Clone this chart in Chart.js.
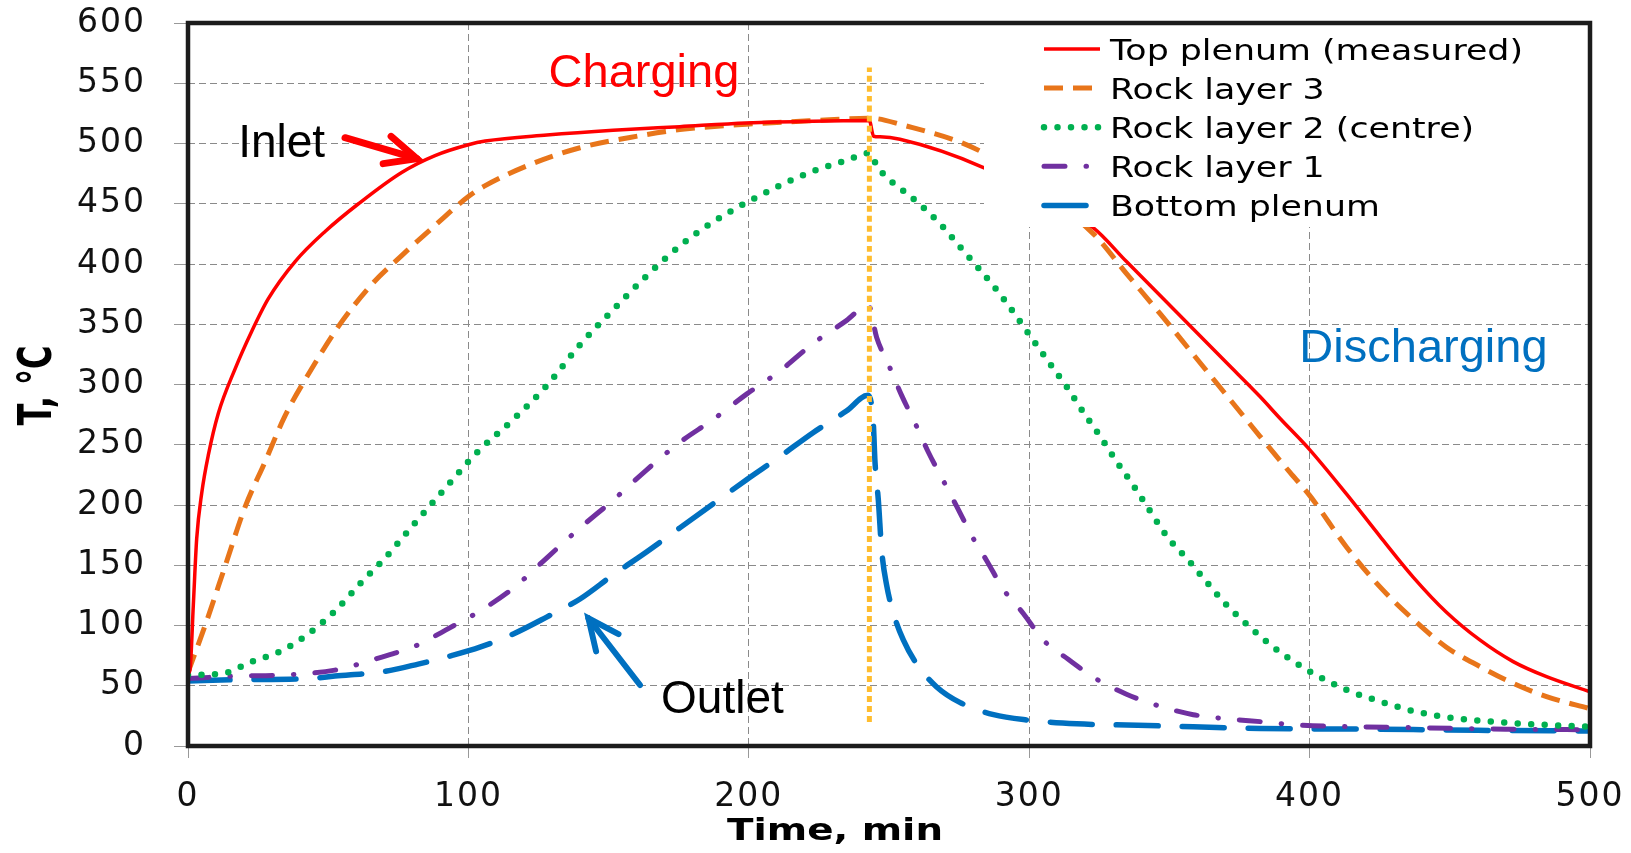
<!DOCTYPE html>
<html>
<head>
<meta charset="utf-8">
<script src="https://cdn.jsdelivr.net/npm/chart.js@4.4.1/dist/chart.umd.min.js"></script>
<style>
  html, body { margin: 0; padding: 0; background: #fff; }
  #wrap { width: 1631px; height: 853px; }
</style>
</head>
<body>
<div id="wrap"><canvas id="tempChart"></canvas></div>
<script>
// series: [time (min), temperature (°C)]
const seriesNames = [
  "Top plenum (measured)",
  "Rock layer 3",
  "Rock layer 2 (centre)",
  "Rock layer 1",
  "Bottom plenum",
];

const topPlenum = [
  [0, 60], [0.7, 63], [1.9, 117], [3.1, 172], [4.9, 210], [7.3, 242], [10.8, 276],
  [16.8, 313], [22.7, 344], [28.6, 371], [38.2, 402], [48.9, 427], [60.8, 450],
  [76.2, 476], [88.1, 490], [100, 499], [106, 502], [128, 507], [151.6, 511],
  [175.4, 514], [199.2, 517], [223, 518.5], [243, 519], [244.5, 506], [246.8, 505.5],
  [253.9, 503.5], [283.7, 480], [322.9, 430], [334.7, 402], [346.6, 374], [358.5, 346],
  [370.4, 318], [382.3, 290], [389.4, 272], [400, 246], [413.2, 209], [425.1, 174],
  [437, 140], [448.8, 111], [460.7, 88], [472.6, 70], [484.5, 57.5], [500, 45],
];

const rockLayer3 = [
  [0, 61], [6.1, 100], [13.2, 149], [20.3, 198], [27.5, 236], [34.6, 274], [44.1, 313],
  [53.6, 348], [65.5, 383], [76.2, 407], [88.1, 432], [100, 456], [106, 465],
  [122, 482.5], [139.8, 496.5], [157.6, 505], [175.4, 511.5], [199.2, 516], [223, 519],
  [243.3, 521], [253.9, 516], [283.5, 492.5], [322.9, 425], [334.7, 392], [346.6, 359],
  [358.5, 325], [370.4, 291], [382.3, 257], [393, 227], [400, 208], [413.2, 165],
  [425.1, 132], [437, 105], [448.8, 82], [460.7, 66], [472.6, 52], [484.5, 41], [500, 31],
];

const rockLayer2 = [
  [0, 59], [12, 60], [22.7, 70], [33.4, 79], [42.9, 93], [52.4, 112], [61.9, 136],
  [70.3, 156], [79.8, 182], [86.9, 201], [94, 220], [100, 236], [104.1, 246],
  [116, 271], [127.9, 299], [139.8, 333], [151.6, 362], [163.5, 390], [175.4, 415],
  [187.3, 435], [199.2, 451], [211, 465], [222.9, 477], [234.8, 486], [243, 492],
  [245.6, 482], [248.6, 473], [252.8, 465], [261, 449.5], [268.8, 432], [275.4, 414],
  [282.5, 395], [289.6, 375], [295.6, 356], [301.5, 336.5], [307.5, 317], [313.4, 298],
  [319.3, 277], [325.3, 257], [331.2, 236], [337.2, 216], [343.1, 195], [349.1, 174],
  [356.8, 154], [363.3, 136], [370.4, 117], [377.6, 101], [386.5, 83], [391.2, 75],
  [400, 62], [413.2, 46.5], [425.1, 37], [437, 29], [448.8, 24], [460.7, 21],
  [472.6, 19], [484.5, 17.5], [500, 16],
];

const rockLayer1 = [
  [0, 56], [16.8, 58], [34.6, 59], [52.4, 63], [67.9, 73], [82.1, 84], [91.7, 96],
  [104.1, 112], [116, 131], [127.9, 156], [139.8, 181], [151.6, 204], [163.5, 229],
  [175.4, 252], [187.3, 271], [199.2, 292], [211, 311], [222.9, 334], [234.8, 353],
  [242.6, 366], [245.6, 339], [250.3, 314], [254.5, 291], [259.9, 265], [264, 244],
  [269.4, 220], [274.1, 199], [280.1, 172], [284.8, 154], [290.8, 130], [297.9, 110],
  [305, 88], [313.9, 72], [324, 55.5], [334.7, 43], [346.6, 33], [358.5, 26],
  [370.4, 22.6], [383.5, 20], [395, 17.5], [430, 15.5], [470, 14], [500, 13.5],
];

const bottomPlenum = [
  [0, 54], [16.8, 55], [42.9, 56], [52.4, 58], [70.3, 62], [82.1, 68], [94, 75],
  [104.1, 82], [116, 93], [127.9, 107], [139.8, 122], [151.6, 142], [163.5, 161],
  [175.4, 181], [187.3, 201], [199.2, 221], [211, 240], [222.9, 260], [234.8, 278],
  [242.5, 291], [244.4, 268], [245, 236], [246.2, 204], [247.4, 162], [249.2, 133],
  [251.6, 110], [255.1, 88], [259.9, 68], [267, 49], [275.4, 36], [287.3, 26],
  [299.2, 21.6], [317, 18.4], [334.7, 17.4], [358.5, 16], [382.3, 14.5], [420, 14],
  [460, 13], [500, 12.5],
];

// charge -> discharge switch marker
const switchLine = [[243, 20], [243, 563]];

const xTicks = [0, 100, 200, 300, 400, 500];
const yTicks = [0, 50, 100, 150, 200, 250, 300, 350, 400, 450, 500, 550, 600];

const notes = [
  { text: "Charging", t: 162.6, T: 547, color: "#FF0000", size: 47 },
  { text: "Inlet", t: 33.4, T: 489, color: "#000000", size: 46 },
  { text: "Outlet", t: 190.6, T: 27, color: "#000000", size: 46 },
  { text: "Discharging", t: 440.6, T: 319, color: "#0070C0", size: 47 },
];
const arrows = [
  { from: [56, 504.8], to: [81.6, 487.4], color: "#FF0000", width: 7 },
  { from: [161.2, 50.6], to: [142.8, 106], color: "#0070C0", width: 6 },
];

const toPoints = (arr) => arr.map(([x, y]) => ({ x, y }));

const datasets = [
  { label: seriesNames[0], data: toPoints(topPlenum), borderColor: "#FF0000",
    borderWidth: 3.5, borderDash: [], borderCapStyle: "butt" },
  { label: seriesNames[1], data: toPoints(rockLayer3), borderColor: "#E8751A",
    borderWidth: 5, borderDash: [19, 10], borderCapStyle: "butt" },
  { label: seriesNames[2], data: toPoints(rockLayer2), borderColor: "#00B050",
    borderWidth: 6.5, borderDash: [0, 13.5], borderCapStyle: "round" },
  { label: seriesNames[3], data: toPoints(rockLayer1), borderColor: "#7030A0",
    borderWidth: 5, borderDash: [21, 21, 0.5, 21], borderCapStyle: "round" },
  { label: seriesNames[4], data: toPoints(bottomPlenum), borderColor: "#0070C0",
    borderWidth: 5.5, borderDash: [42, 24], borderCapStyle: "round" },
  { label: "", data: toPoints(switchLine), borderColor: "#FFBD2E",
    borderWidth: 5, borderDash: [6, 4], borderCapStyle: "butt", order: -1 },
].map((d) => ({
  ...d,
  fill: false,
  pointRadius: 0,
  cubicInterpolationMode: "monotone",
}));

// horizontally stretched text, like the original picture
function stretchText(ctx, text, x, y, width) {
  const sx = width / ctx.measureText(text).width;
  ctx.save();
  ctx.translate(x, y);
  ctx.scale(sx, 1);
  ctx.fillText(text, 0, 0);
  ctx.restore();
}

function drawArrow(ctx, x0, y0, x1, y1, color, width) {
  const a = Math.atan2(y1 - y0, x1 - x0);
  const head = 34;
  ctx.strokeStyle = color;
  ctx.lineWidth = width;
  ctx.lineCap = "round";
  ctx.lineJoin = "miter";
  ctx.setLineDash([]);
  ctx.beginPath();
  ctx.moveTo(x0, y0);
  ctx.lineTo(x1, y1);
  ctx.stroke();
  ctx.beginPath();
  ctx.moveTo(x1 - head * Math.cos(a - 0.43), y1 - head * Math.sin(a - 0.43));
  ctx.lineTo(x1, y1);
  ctx.lineTo(x1 - head * Math.cos(a + 0.43), y1 - head * Math.sin(a + 0.43));
  ctx.stroke();
}

const decorations = {
  id: "decorations",
  beforeDraw(chart) {
    // slightly wider tick labels
    chart.ctx.letterSpacing = "2px";
  },
  afterDatasetsDraw(chart) {
    const { ctx, chartArea, scales } = chart;
    const x = scales.x, y = scales.y;
    ctx.save();
    ctx.letterSpacing = "0px";

    // legend over the plot, top right
    const boxLeft = chartArea.right - 606;
    ctx.fillStyle = "#fff";
    ctx.fillRect(boxLeft, chartArea.top, chartArea.right - boxLeft, 227 - chartArea.top);
    ctx.font = '29px "DejaVu Sans"';
    const legendW = 413;
    const sx = legendW / ctx.measureText(seriesNames[0]).width;
    ctx.textBaseline = "alphabetic";
    ctx.textAlign = "left";
    datasets.filter((d) => d.label).forEach((d, i) => {
      const cy = 49 + i * 39.1;
      ctx.strokeStyle = d.borderColor;
      ctx.lineWidth = d.borderWidth;
      ctx.lineCap = d.borderCapStyle;
      ctx.setLineDash(d.borderDash);
      ctx.beginPath();
      ctx.moveTo(1044, cy);
      ctx.lineTo(1100, cy);
      ctx.stroke();
      ctx.fillStyle = "#000";
      ctx.save();
      ctx.translate(1110, cy + 10.6);
      ctx.scale(sx, 1);
      ctx.fillText(d.label, 0, 0);
      ctx.restore();
    });

    // text notes and arrows
    ctx.textAlign = "center";
    notes.forEach((n) => {
      ctx.font = n.size + 'px "Liberation Sans"';
      ctx.fillStyle = n.color;
      ctx.fillText(n.text, x.getPixelForValue(n.t), y.getPixelForValue(n.T));
    });
    arrows.forEach((a) => {
      drawArrow(ctx,
        x.getPixelForValue(a.from[0]), y.getPixelForValue(a.from[1]),
        x.getPixelForValue(a.to[0]), y.getPixelForValue(a.to[1]),
        a.color, a.width);
    });
    ctx.restore();
  },
  afterDraw(chart) {
    const { ctx, chartArea } = chart;
    ctx.save();
    ctx.letterSpacing = "0px";
    ctx.setLineDash([]);
    ctx.strokeStyle = "#1c1c1c";
    ctx.lineWidth = 4.5;
    ctx.strokeRect(chartArea.left, chartArea.top,
      chartArea.right - chartArea.left, chartArea.bottom - chartArea.top);

    // axis titles
    ctx.fillStyle = "#000";
    ctx.textBaseline = "alphabetic";
    ctx.textAlign = "left";
    ctx.font = 'bold 31px "DejaVu Sans"';
    const tw = 216;
    stretchText(ctx, "Time, min", 835 - tw / 2, 840, tw);

    ctx.translate(51, 385.5);
    ctx.rotate(-Math.PI / 2);
    ctx.font = 'bold 46px "DejaVu Sans"';
    stretchText(ctx, "T, °C", -80 / 2, 0, 80);
    ctx.restore();
  },
};

const ctx = document.getElementById("tempChart").getContext("2d");

const config = {
  type: "line",
  data: { datasets: datasets },
  options: {
    responsive: true,
    maintainAspectRatio: false,
    animation: false,
    layout: { padding: { top: 23, right: 41, bottom: 0, left: 0 } },
    plugins: {
      legend: { display: false },
      tooltip: { enabled: false },
    },
    scales: {
      x: {
        type: "linear",
        min: 0,
        max: 500,
        afterBuildTicks: (axis) => { axis.ticks = xTicks.map((v) => ({ value: v })); },
        afterFit: (axis) => {
          axis.height = 107;
          axis.paddingLeft = 0;
          axis.paddingRight = 0;
        },
        ticks: {
          font: { family: "DejaVu Sans", size: 33 },
          color: "#111",
          padding: 20,
          maxRotation: 0,
          autoSkip: false,
        },
        grid: { color: "#8a8a8a", lineWidth: 1, tickLength: 12, tickColor: "#999" },
        border: { display: false, dash: [7, 4] },
      },
      y: {
        min: 0,
        max: 600,
        afterBuildTicks: (axis) => { axis.ticks = yTicks.map((v) => ({ value: v })); },
        afterFit: (axis) => {
          axis.width = 188;
          axis.paddingTop = 0;
          axis.paddingBottom = 0;
        },
        ticks: {
          font: { family: "DejaVu Sans", size: 33 },
          color: "#111",
          padding: 28,
          autoSkip: false,
        },
        grid: { color: "#8a8a8a", lineWidth: 1, tickLength: 14, tickColor: "#999" },
        border: { display: false, dash: [7, 4] },
      },
    },
  },
  plugins: [decorations],
};

const tempChart = new Chart(ctx, config);
</script>
</body>
</html>
